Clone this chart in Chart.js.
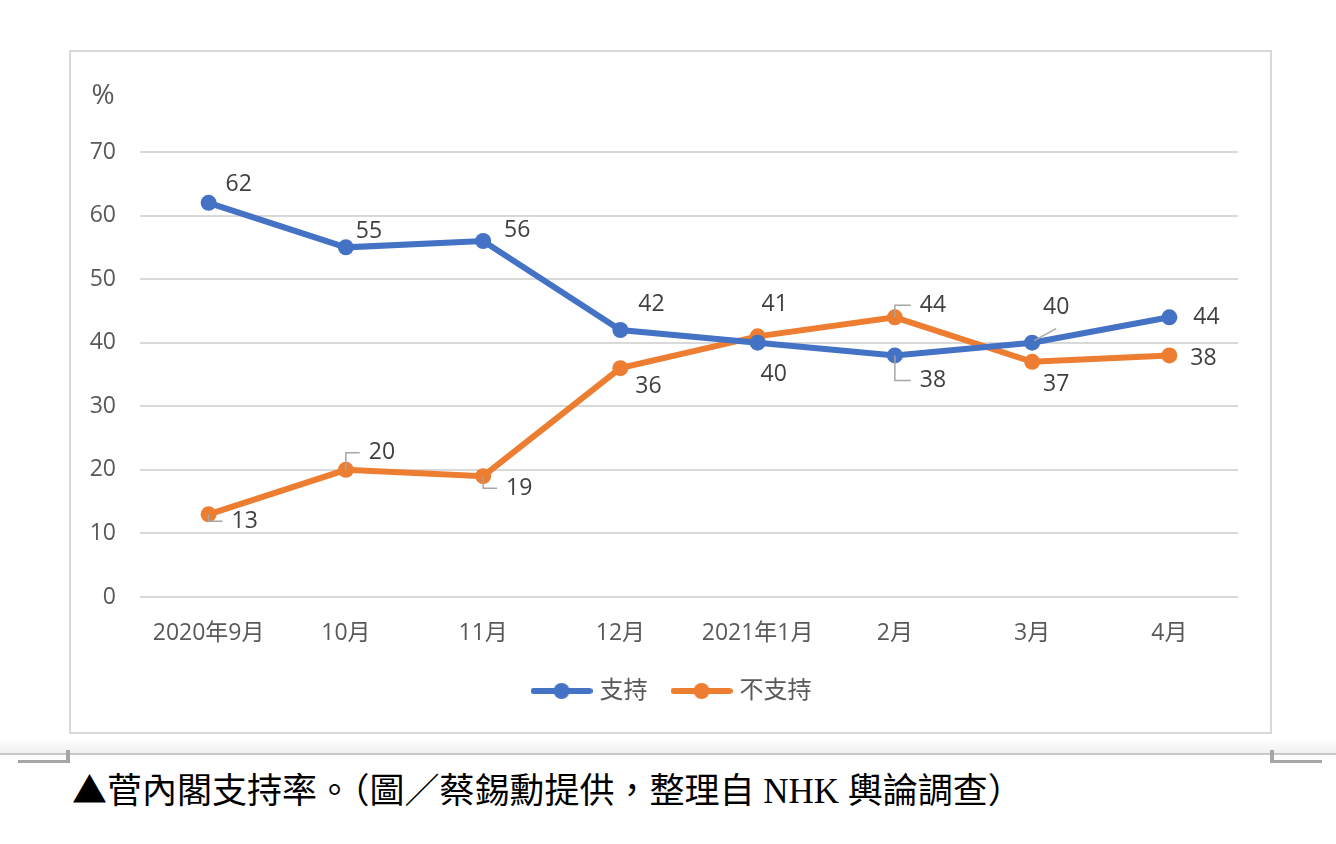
<!DOCTYPE html>
<html>
<head>
<meta charset="utf-8">
<script src="https://cdn.jsdelivr.net/npm/chart.js@4.4.1/dist/chart.umd.min.js"></script>
<style>
    body { margin: 0; background: #fff; width: 1336px; height: 844px; position: relative; overflow: hidden; }
    #box { position: absolute; left: 69px; top: 50px; width: 1199px; height: 680px; border: 2px solid #d9d9d9; }
    #box canvas { display: block; }
    #shade { position: absolute; left: 0; top: 738px; width: 1336px; height: 15px; background: linear-gradient(#fff, #f0f0f0); }
    #rule { position: absolute; left: 0; top: 753px; width: 1336px; height: 2px; background: #c8c8c8; }
    .mark { position: absolute; background: #a6a6a6; }
    #caption { position: absolute; left: 72px; top: 762px; font-family: "Liberation Serif", "Noto Sans CJK TC", serif; font-size: 35px; color: #000; white-space: nowrap; }
    #caption .tri { font-family: "Noto Sans CJK TC", sans-serif; }
</style>
</head>
<body>
<div id="shade"></div>
<div id="rule"></div>
<div class="mark" style="left:18px;top:760px;width:52px;height:3px"></div>
<div class="mark" style="left:66px;top:750px;width:4px;height:13px"></div>
<div class="mark" style="left:1270px;top:750px;width:4px;height:13px"></div>
<div class="mark" style="left:1270px;top:760px;width:52px;height:3px"></div>
<div id="box"><canvas id="approvalChart" width="1199" height="680"></canvas></div>
<div id="caption"><span class="tri">▲</span>菅內閣支持率。（圖／蔡錫勳提供，整理自 NHK 輿論調查）</div>

<script>
// Chart data (NHK poll)
const months = ["2020年9月", "10月", "11月", "12月", "2021年1月", "2月", "3月", "4月"];
const support = [62, 55, 56, 42, 40, 38, 40, 44];
const oppose = [13, 20, 19, 36, 41, 44, 37, 38];
const yTicks = [0, 10, 20, 30, 40, 50, 60, 70];

const BLUE = "#4472c4";
const ORANGE = "#ed7d31";
const FONT = '"Open Sans", "Noto Sans CJK TC", sans-serif';

// label placement (pixel offsets from each point), leader line type
const labelOffsets = [
    [[30, -18], [23, -16], [34, -11], [31, -26], [16, 32], [38, 25], [24, -35], [37, 0]],
    [[36, 7], [36, -17], [36, 12], [28, 18], [17, -32], [38, -12], [24, 23], [34, 3]]
];
const leaders = [
    { 5: "L", 6: "diag" },
    { 0: "L", 1: "L", 2: "L", 5: "L" }
];

// small line+dot icon for the legend
function makeLegendIcon(color) {
    const c = document.createElement("canvas");
    c.width = 62;
    c.height = 20;
    const g = c.getContext("2d");
    g.strokeStyle = color;
    g.lineWidth = 6;
    g.lineCap = "round";
    g.beginPath();
    g.moveTo(3, 10);
    g.lineTo(59, 10);
    g.stroke();
    g.fillStyle = color;
    g.beginPath();
    g.arc(31, 10, 8, 0, Math.PI * 2);
    g.fill();
    return c;
}
const legendIcons = [makeLegendIcon(BLUE), makeLegendIcon(ORANGE)];

const labelPlugin = {
    id: "pointLabels",
    afterLayout(chart) {
        // legend in the original sits a bit right of the canvas centre
        chart.legend.left += 19;
        chart.legend.right += 19;
    },
    afterDatasetsDraw(chart) {
        const ctx = chart.ctx;
        ctx.save();
        ctx.font = "23px " + FONT;
        ctx.textAlign = "center";
        ctx.textBaseline = "middle";

        chart.data.datasets.forEach((ds, d) => {
            const meta = chart.getDatasetMeta(d);
            meta.data.forEach((pt, i) => {
                const off = labelOffsets[d][i];
                const lx = pt.x + off[0];
                const ly = pt.y + off[1];
                const text = String(ds.data[i]);
                const kind = leaders[d][i];
                if (kind) {
                    ctx.strokeStyle = "#a6a6a6";
                    ctx.lineWidth = 1.5;
                    ctx.beginPath();
                    if (kind === "L") {
                        const left = lx - ctx.measureText(text).width / 2 - 9;
                        ctx.moveTo(pt.x, pt.y);
                        ctx.lineTo(pt.x, ly);
                        ctx.lineTo(left, ly);
                    } else {
                        ctx.moveTo(pt.x + 2, pt.y - 2);
                        ctx.lineTo(lx, ly + 21);
                    }
                    ctx.stroke();
                }
                ctx.fillStyle = "#404040";
                ctx.fillText(text, lx, ly);
            });
        });

        // unit label above the y axis
        const y = chart.scales.y;
        ctx.fillStyle = "#595959";
        ctx.font = "28px " + FONT;
        ctx.fillText("%", 32, y.top - 56);
        ctx.restore();
    }
};

const ctx = document.getElementById("approvalChart").getContext("2d");

new Chart(ctx, {
    type: "line",
    data: {
        labels: months,
        datasets: [
            {
                label: "支持",
                data: support,
                borderColor: BLUE,
                backgroundColor: BLUE,
                borderWidth: 6,
                pointRadius: 8,
                pointBorderWidth: 0,
                tension: 0,
                fill: false
            },
            {
                label: "不支持",
                data: oppose,
                borderColor: ORANGE,
                backgroundColor: ORANGE,
                borderWidth: 6,
                pointRadius: 8,
                pointBorderWidth: 0,
                tension: 0,
                fill: false
            }
        ]
    },
    options: {
        responsive: false,
        animation: false,
        layout: {
            padding: { left: 0, right: 32, top: 100, bottom: 19 }
        },
        plugins: {
            tooltip: { enabled: false },
            legend: {
                position: "bottom",
                labels: {
                    usePointStyle: true,
                    pointStyleWidth: 52,
                    padding: 28,
                    color: "#595959",
                    font: { size: 24, family: FONT },
                    generateLabels: function (chart) {
                        const items = Chart.defaults.plugins.legend.labels.generateLabels(chart);
                        items.forEach((item, i) => { item.pointStyle = legendIcons[i]; });
                        return items;
                    }
                }
            }
        },
        scales: {
            x: {
                offset: true,
                grid: { display: false, drawTicks: false },
                border: { display: false },
                ticks: {
                    color: "#595959",
                    padding: 23,
                    maxRotation: 0,
                    font: { size: 23, family: FONT }
                },
                afterFit: function (scale) { scale.height = 54; }
            },
            y: {
                min: 0,
                max: 70,
                afterBuildTicks: function (scale) {
                    scale.ticks = yTicks.map(v => ({ value: v }));
                },
                grid: { color: "#d9d9d9", lineWidth: 2, drawTicks: false },
                border: { display: false },
                ticks: {
                    color: "#595959",
                    padding: 24,
                    font: { size: 23, family: FONT }
                },
                afterFit: function (scale) { scale.width = 69; }
            }
        }
    },
    plugins: [labelPlugin]
});
</script>
</body>
</html>
